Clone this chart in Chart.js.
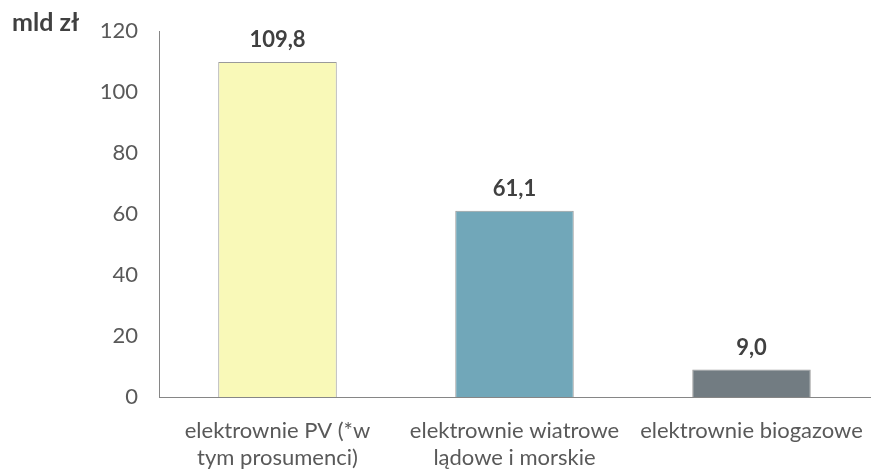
<!DOCTYPE html>
<html>
<head>
<meta charset="utf-8">
<script src="https://cdn.jsdelivr.net/npm/chart.js@4.4.1/dist/chart.umd.min.js"></script>
<style>
  html, body { margin: 0; padding: 0; background: #ffffff; }
  #wrap { position: relative; width: 871px; height: 469px; }
  #unit { position: absolute; left: 12px; top: 7px; font: bold 25px Lato, sans-serif; color: #404040; line-height: 28px; }
</style>
</head>
<body>
<div id="wrap">
  <canvas id="chart" width="871" height="469"></canvas>
  <div id="unit">mld zł</div>
</div>
<script>
// Inwestycje w OZE (mld zł)
const categories = [
  ['elektrownie PV (*w', 'tym prosumenci)'],
  ['elektrownie wiatrowe', 'lądowe i morskie'],
  ['elektrownie biogazowe', '']
];
const values = [109.8, 61.1, 9.0];
const barColors = ['#F9F9B8', '#71A7B9', '#727C82'];
const yTicks = [0, 20, 40, 60, 80, 100, 120];

// Value labels above each bar, Polish decimal comma
const valueLabels = {
  id: 'valueLabels',
  afterDatasetsDraw(chart) {
    const ctx = chart.ctx;
    const meta = chart.getDatasetMeta(0);
    ctx.save();
    ctx.font = 'bold 22px Lato, sans-serif';
    ctx.fillStyle = '#404040';
    ctx.textAlign = 'center';
    ctx.textBaseline = 'alphabetic';
    meta.data.forEach((bar, i) => {
      const txt = values[i].toFixed(1).replace('.', ',');
      ctx.fillText(txt, bar.x, bar.y - 15);
    });
    ctx.restore();
  }
};

new Chart(document.getElementById('chart'), {
  type: 'bar',
  data: {
    labels: categories,
    datasets: [{
      data: values,
      backgroundColor: barColors,
      borderColor: '#9a9a9a',
      borderWidth: 1,
      barPercentage: 0.5,
      categoryPercentage: 1.0
    }]
  },
  options: {
    responsive: false,
    animation: false,
    layout: { padding: { top: 31, right: 1, left: 0, bottom: 0 } },
    plugins: { legend: { display: false }, tooltip: { enabled: false } },
    scales: {
      x: {
        grid: { display: false, drawTicks: false },
        border: { display: true, color: '#868686', width: 1 },
        ticks: {
          color: '#595959',
          font: { family: 'Lato', size: 22, lineHeight: 1.2 },
          padding: 21,
          maxRotation: 0,
          autoSkip: false
        },
        afterFit(scale) {
          scale.height = 72;
          // let the plot run to the right edge; the last label fits inside its slot
          scale.paddingLeft = 0;
          scale.paddingRight = 0;
        }
      },
      y: {
        min: 0,
        max: 120,
        afterBuildTicks(scale) { scale.ticks = yTicks.map(v => ({ value: v })); },
        grid: { display: false, drawTicks: false },
        border: { display: true, color: '#868686', width: 1 },
        ticks: {
          color: '#595959',
          font: { family: 'Lato', size: 22 },
          padding: 21
        },
        afterFit(scale) {
          scale.width = 159;
          // top of the plot is set by the layout padding alone
          scale.paddingTop = 0;
          scale.paddingBottom = 0;
        }
      }
    }
  },
  plugins: [valueLabels]
});
</script>
</body>
</html>
